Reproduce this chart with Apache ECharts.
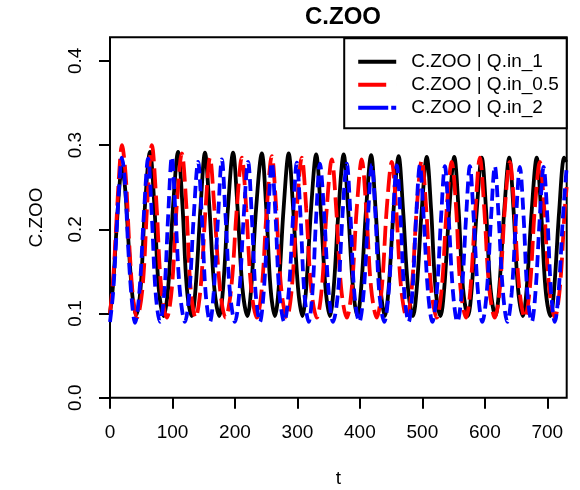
<!DOCTYPE html>
<html>
<head>
<meta charset="utf-8">
<script src="https://cdn.jsdelivr.net/npm/echarts@6/dist/echarts.min.js"></script>
<style>html,body{margin:0;padding:0;background:#fff;}#c{width:580px;height:490px;}</style>
</head>
<body>
<div id="c"></div>
<script>
const titleText = "C.ZOO";
const xName = "t";
const yName = "C.ZOO";
const seriesNames = ["C.ZOO | Q.in_1", "C.ZOO | Q.in_0.5", "C.ZOO | Q.in_2"];
const xTicks = [0, 100, 200, 300, 400, 500, 600, 700];
const yTicks = [0.0, 0.1, 0.2, 0.3, 0.4];

// [t, C.ZOO]
const zooQ1 = [
[0,0.100],[5,0.135],[10,0.195],[15,0.250],[19,0.274],[24,0.250],[30,0.180],[36,0.120],[42,0.098],
[49,0.130],[56,0.228],[64,0.292],[71,0.228],[78,0.130],[86,0.097],
[93,0.130],[101,0.228],[109,0.292],[116,0.228],[123,0.130],[131,0.097],
[137,0.130],[145,0.227],[152,0.291],[159,0.227],[167,0.130],[175,0.097],
[181,0.130],[189,0.227],[197,0.291],[204,0.227],[212,0.130],[220,0.097],
[226,0.130],[234,0.226],[243,0.290],[250,0.226],[257,0.130],[264,0.097],
[270,0.130],[278,0.226],[286,0.290],[293,0.226],[301,0.130],[308,0.097],
[314,0.130],[322,0.226],[330,0.289],[337,0.226],[345,0.130],[352,0.097],
[358,0.130],[366,0.225],[374,0.289],[381,0.225],[389,0.130],[396,0.097],
[402,0.130],[410,0.225],[418,0.288],[425,0.225],[433,0.130],[440,0.097],
[446,0.130],[454,0.224],[462,0.287],[469,0.224],[477,0.130],[485,0.097],
[491,0.130],[499,0.223],[507,0.286],[514,0.223],[521,0.130],[529,0.097],
[535,0.130],[543,0.223],[551,0.286],[558,0.223],[565,0.130],[573,0.097],
[579,0.130],[587,0.222],[595,0.285],[602,0.222],[609,0.130],[617,0.097],
[623,0.130],[631,0.222],[639,0.285],[646,0.222],[653,0.130],[661,0.097],
[667,0.130],[675,0.222],[683,0.285],[690,0.222],[697,0.130],[705,0.097],
[711,0.130],[719,0.222],[727,0.285],[730,0.280]
];
const zooQ05 = [
[0,0.100],[5,0.140],[10,0.205],[15,0.270],[19,0.300],[25,0.265],[31,0.180],[37,0.118],[43,0.095],
[52,0.130],[60,0.235],[67,0.300],[74,0.235],[82,0.130],[91,0.095],
[99,0.130],[107,0.230],[115,0.290],[122,0.230],[129,0.130],[137,0.095],
[145,0.130],[153,0.225],[160,0.285],[167,0.225],[176,0.130],[185,0.095],
[194,0.130],[203,0.225],[211,0.285],[218,0.225],[226,0.130],[235,0.095],
[243,0.130],[251,0.225],[259,0.287],[266,0.225],[274,0.130],[283,0.095],
[291,0.130],[299,0.225],[307,0.285],[314,0.225],[322,0.130],[331,0.095],
[339,0.130],[347,0.225],[355,0.283],[362,0.225],[370,0.130],[379,0.095],
[387,0.130],[395,0.225],[403,0.283],[410,0.225],[418,0.130],[427,0.095],
[435,0.130],[443,0.225],[451,0.280],[458,0.225],[466,0.130],[475,0.095],
[483,0.130],[491,0.225],[499,0.282],[506,0.225],[514,0.130],[523,0.095],
[531,0.130],[539,0.225],[547,0.280],[554,0.225],[561,0.130],[570,0.095],
[577,0.130],[585,0.225],[592,0.285],[599,0.225],[607,0.130],[616,0.095],
[624,0.130],[632,0.225],[640,0.280],[647,0.225],[655,0.130],[664,0.095],
[672,0.130],[680,0.225],[688,0.280],[695,0.225],[703,0.130],[712,0.095],
[720,0.130],[728,0.225],[731,0.250]
];
const zooQ2 = [
[0,0.090],[5,0.125],[10,0.190],[15,0.255],[19,0.285],[24,0.255],[29,0.180],[35,0.115],[40,0.089],
[47,0.125],[54,0.215],[61,0.284],[67,0.215],[73,0.125],[80,0.090],
[87,0.125],[93,0.215],[99,0.286],[105,0.215],[112,0.125],[120,0.090],
[127,0.125],[134,0.215],[141,0.280],[147,0.215],[153,0.125],[160,0.090],
[166,0.125],[173,0.215],[179,0.283],[185,0.215],[192,0.125],[200,0.090],
[207,0.125],[214,0.215],[221,0.280],[227,0.215],[233,0.125],[240,0.090],
[246,0.125],[253,0.215],[259,0.279],[265,0.215],[271,0.125],[279,0.090],
[286,0.125],[293,0.215],[299,0.279],[305,0.215],[311,0.125],[318,0.090],
[324,0.125],[330,0.215],[336,0.278],[343,0.215],[350,0.125],[357,0.090],
[365,0.125],[372,0.215],[379,0.278],[385,0.215],[391,0.125],[399,0.090],
[406,0.125],[413,0.215],[419,0.277],[425,0.215],[431,0.125],[439,0.090],
[446,0.125],[453,0.215],[459,0.276],[465,0.215],[471,0.125],[478,0.090],
[484,0.125],[490,0.215],[496,0.276],[502,0.215],[509,0.125],[516,0.090],
[523,0.125],[530,0.215],[536,0.275],[542,0.215],[549,0.125],[556,0.090],
[563,0.125],[570,0.215],[576,0.275],[582,0.215],[589,0.125],[596,0.090],
[603,0.125],[610,0.215],[616,0.275],[622,0.215],[629,0.125],[636,0.090],
[643,0.125],[650,0.215],[656,0.274],[662,0.215],[668,0.125],[675,0.090],
[681,0.125],[688,0.215],[694,0.274],[700,0.215],[706,0.125],[712,0.090],
[718,0.125],[725,0.215],[731,0.274]
];

const FONT = "'Liberation Sans', Arial, Helvetica, sans-serif";
const chart = echarts.init(document.getElementById('c'), null, {renderer: 'canvas'});
const mk = (name, data, color, dash) => ({
  name, type: 'line', data, showSymbol: false, symbol: 'none', smooth: 0.35,
  lineStyle: {color, width: 3.8, type: dash, cap: 'butt'},
  itemStyle: {color}, animation: false
});
// legend keys drawn like the R legend segments (38px wide, 4px thick)
const legendIcons = [
  'path://M0,0H38V4H0Z',
  'path://M0,0H28V4H0Z M37.99,0H38V4H37.99Z',
  'path://M0,0H30V4H0Z M33,0H38V4H33Z'
];
chart.setOption({
  animation: false,
  backgroundColor: '#fff',
  title: {text: titleText, left: 338, top: 0, textAlign: 'center',
    textStyle: {fontFamily: FONT, fontWeight: 'bold', fontSize: 24, color: '#000'}},
  grid: {left: 110, right: 13.3, top: 37.3, bottom: 92.3, outerBoundsMode: 'none', containLabel: false,
    show: true, borderColor: '#000', borderWidth: 2, backgroundColor: 'transparent'},
  legend: {
    right: 13.3, top: 38.3, orient: 'vertical', align: 'left',
    backgroundColor: '#fff', borderColor: '#000', borderWidth: 2, borderRadius: 0,
    padding: [14, 8, 11, 14], itemWidth: 38, itemHeight: 4, itemGap: 4,
    textStyle: {fontFamily: FONT, fontSize: 19, color: '#000', padding: [0, 0, 0, 10]},
    data: seriesNames.map((n, i) => ({name: n, icon: legendIcons[i]}))
  },
  xAxis: {
    type: 'value', min: 0, max: 731,
    name: xName, nameLocation: 'middle', nameGap: 72,
    nameTextStyle: {fontFamily: FONT, fontSize: 19, color: '#000'},
    axisLine: {show: false}, splitLine: {show: false},
    axisTick: {show: true, length: 11, lineStyle: {color: '#000', width: 2}, customValues: xTicks},
    axisLabel: {fontFamily: FONT, fontSize: 19, color: '#000', margin: 26, customValues: xTicks}
  },
  yAxis: {
    type: 'value', min: 0, max: 0.428,
    name: yName, nameLocation: 'middle', nameGap: 64, nameRotate: 90,
    nameTextStyle: {fontFamily: FONT, fontSize: 19, color: '#000'},
    axisLine: {show: false}, splitLine: {show: false},
    axisTick: {show: true, length: 11, lineStyle: {color: '#000', width: 2}, customValues: yTicks},
    axisLabel: {fontFamily: FONT, fontSize: 19, color: '#000', margin: 25, rotate: 90,
      customValues: yTicks, formatter: v => v.toFixed(1)}
  },
  series: [
    mk(seriesNames[0], zooQ1, '#000000', 'solid'),
    mk(seriesNames[1], zooQ05, '#ff0000', [20, 7]),
    mk(seriesNames[2], zooQ2, '#0000ff', [12, 6])
  ]
});
</script>
</body>
</html>
